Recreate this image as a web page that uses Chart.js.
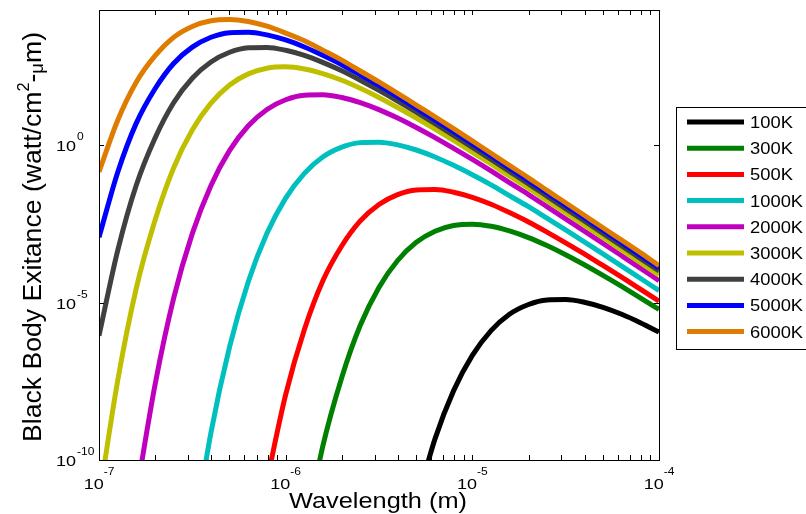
<!DOCTYPE html>
<html>
<head>
<meta charset="utf-8">
<script src="https://cdn.jsdelivr.net/npm/chart.js@4.4.1/dist/chart.umd.min.js"></script>
<style>
  html, body { margin: 0; background: #fff; }
  canvas { display: block; }
</style>
</head>
<body>
<canvas id="bb" width="806" height="514"></canvas>
<script>
// wavelength samples (m), 10 per decade
const wavelengths = [1e-7, 1.26e-7, 1.58e-7, 2e-7, 2.51e-7, 3.16e-7, 3.98e-7, 5.01e-7, 6.31e-7, 7.94e-7,
    1e-6, 1.26e-6, 1.58e-6, 2e-6, 2.51e-6, 3.16e-6, 3.98e-6, 5.01e-6, 6.31e-6, 7.94e-6,
    1e-5, 1.26e-5, 1.58e-5, 2e-5, 2.51e-5, 3.16e-5, 3.98e-5, 5.01e-5, 6.31e-5, 7.94e-5, 1e-4];

// exitance (watt/cm^2-um), null = below the axis
const m100 = [null, null, null, null, null, null, null, null, null, null,
    null, null, null, null, null, null, null, 4.0e-12, 4.7e-10, 1.6e-8,
    2.11e-7, 1.29e-6, 4.27e-6, 8.75e-6, 1.22e-5, 1.26e-5, 1.035e-5, 7.11e-6, 4.27e-6, 2.31e-6, 1.16e-6];
const m300 = [null, null, null, null, null, null, null, null, null, null,
    null, 3.4e-13, 2.7e-10, 4.3e-8, 1.91e-6, 3.06e-5, 2.19e-4, 8.28e-4, 1.87e-3, 2.83e-3,
    3.12e-3, 2.68e-3, 1.91e-3, 1.17e-3, 6.52e-4, 3.33e-4, 1.60e-4, 7.38e-5, 3.29e-5, 1.43e-5, 6.08e-6];
const m500 = [null, null, null, null, null, null, null, null, null, 2.2e-11,
    1.19e-8, 1.4e-6, 4.86e-5, 6.44e-4, 3.96e-3, 0.0132, 0.0272, 0.0381, 0.0395, 0.0324,
    0.0223, 0.0134, 0.00728, 0.00366, 0.00175, 7.98e-4, 3.53e-4, 1.52e-4, 6.47e-5, 2.71e-5, 1.12e-5];
const m1000 = [null, null, null, null, null, 2.0e-13, 7.5e-10, 4.0e-7, 4.7e-5, 1.6e-3,
    0.0211, 0.129, 0.427, 0.875, 1.22, 1.26, 1.035, 0.711, 0.427, 0.231,
    0.116, 0.0555, 0.0253, 0.0112, 0.00484, 0.00206, 8.6e-4, 3.56e-4, 1.46e-4, 5.96e-5, 2.42e-5];
const m2000 = [null, null, 7.2e-12, 2.6e-8, 1.36e-5, 1.56e-3, 0.053, 0.69, 4.19, 13.8,
    28.1, 39.2, 40.4, 33.0, 22.6, 13.6, 7.35, 3.70, 1.76, 0.80,
    0.356, 0.153, 0.065, 0.0272, 0.0113, 0.00463, 0.00189, 7.7e-4, 3.1e-4, 1.25e-4, 5.0e-5];
const m3000 = [5.5e-12, 3.4e-8, 2.7e-5, 4.3e-3, 0.191, 3.06, 21.9, 82.8, 187, 283,
    312, 268, 191, 117, 65.2, 33.3, 16.0, 7.38, 3.29, 1.43,
    0.608, 0.255, 0.106, 0.0436, 0.0178, 0.00723, 0.00292, 0.00118, 4.74e-4, 1.90e-4, 7.6e-5];
const m4000 = [8.9e-7, 4.6e-4, 0.052, 1.75, 22.6, 136, 446, 906, 1260, 1290,
    1050, 721, 432, 233, 117, 55.8, 25.5, 11.3, 4.88, 2.07,
    0.865, 0.358, 0.147, 0.0598, 0.0243, 0.0098, 0.00395, 0.00159, 6.4e-4, 2.55e-4, 1.02e-4];
const m5000 = [1.2e-3, 0.14, 4.9, 64, 400, 1320, 2720, 3810, 3950, 3240,
    2230, 1340, 728, 366, 175, 80, 35.3, 15.2, 6.47, 2.71,
    1.12, 0.46, 0.188, 0.076, 0.031, 0.0124, 0.0050, 0.0020, 8.0e-4, 3.2e-4, 1.28e-4];
const m6000 = [0.144, 6.3, 100, 710, 2700, 6000, 9100, 10000, 8600, 6100,
    3700, 2100, 1060, 510, 230, 104, 45, 19, 8.1, 3.4,
    1.38, 0.56, 0.23, 0.093, 0.037, 0.015, 0.0060, 0.0024, 9.7e-4, 3.9e-4, 1.5e-4];

const seriesNames = ['100K', '300K', '500K', '1000K', '2000K', '3000K', '4000K', '5000K', '6000K'];
const seriesData = [m100, m300, m500, m1000, m2000, m3000, m4000, m5000, m6000];
const seriesColors = ['#000000', '#008000', '#ff0000', '#00bfbf', '#bf00bf', '#bfbf00', '#404040', '#0000ff', '#df7c00'];

const xTicks = [1e-7, 1e-6, 1e-5, 1e-4];
const xTickExp = ['-7', '-6', '-5', '-4'];
const yTicks = [1e-10, 1e-5, 1e0];
const yTickExp = ['-10', '-5', '0'];

const FONT = '"Liberation Sans", Arial, sans-serif';

// draw text squeezed/stretched horizontally by sx
function drawText(ctx, str, x, y, size, align, sx) {
    ctx.save();
    ctx.font = size + 'px ' + FONT;
    ctx.translate(x, y);
    ctx.scale(sx, 1);
    ctx.textAlign = align;
    ctx.textBaseline = 'alphabetic';
    ctx.fillText(str, 0, 0);
    ctx.restore();
}

function textW(ctx, str, size, sx) {
    ctx.font = size + 'px ' + FONT;
    return ctx.measureText(str).width * sx;
}

const framePlugin = {
    id: 'frame',
    afterDraw(chart) {
        const ctx = chart.ctx;
        const a = chart.chartArea;
        const xs = chart.scales.x;
        const ys = chart.scales.y;
        ctx.save();
        ctx.fillStyle = '#000';
        ctx.strokeStyle = '#000';
        ctx.lineWidth = 1;
        ctx.strokeRect(Math.round(a.left) + 0.5, Math.round(a.top) + 0.5,
            Math.round(a.right - a.left), Math.round(a.bottom - a.top));

        // x ticks, major and minor, inside on top and bottom
        ctx.beginPath();
        for (let d = -7; d < -4; d++) {
            for (let k = 1; k <= 9; k++) {
                const px = Math.round(xs.getPixelForValue(k * Math.pow(10, d))) + 0.5;
                ctx.moveTo(px, a.bottom); ctx.lineTo(px, a.bottom - 5);
                ctx.moveTo(px, a.top); ctx.lineTo(px, a.top + 5);
            }
        }
        yTicks.forEach(v => {
            const py = Math.round(ys.getPixelForValue(v)) + 0.5;
            ctx.moveTo(a.left, py); ctx.lineTo(a.left + 5, py);
            ctx.moveTo(a.right, py); ctx.lineTo(a.right - 5, py);
        });
        ctx.stroke();

        // tick labels 10^n
        const sx = 1.2;
        xTicks.forEach((v, i) => {
            const px = xs.getPixelForValue(v);
            const w1 = textW(ctx, '10', 15, sx);
            const w2 = textW(ctx, xTickExp[i], 10, sx);
            const x0 = px - (w1 + w2) / 2;
            drawText(ctx, '10', x0, a.bottom + 29, 15, 'left', sx);
            drawText(ctx, xTickExp[i], x0 + w1, a.bottom + 15, 10, 'left', sx);
        });
        yTicks.forEach((v, i) => {
            const py = ys.getPixelForValue(v);
            drawText(ctx, '10', 76, py + 6, 15, 'right', sx);
            drawText(ctx, yTickExp[i], 77, py - 5, 10, 'left', sx);
        });

        // x axis title
        const xw = textW(ctx, 'Wavelength (m)', 22, 1);
        drawText(ctx, 'Wavelength (m)', 378, 508, 22, 'center', 178 / xw);

        // y axis title, rotated, with superscript 2 and small mu
        const F = 26;
        const parts = [
            ['Black Body Exitance (watt/cm', F, 0],
            ['2', 16, -12],
            ['-', F, 0],
            ['\u03bc', 18, 2],
            ['m)', F, 0]
        ];
        let total = 0;
        parts.forEach(p => { total += textW(ctx, p[0], p[1], 1); });
        const ls = 410 / total;
        ctx.save();
        ctx.translate(41, 237);
        ctx.rotate(-Math.PI / 2);
        let cx = -total * ls / 2;
        parts.forEach(p => {
            drawText(ctx, p[0], cx, p[2], p[1], 'left', ls);
            cx += textW(ctx, p[0], p[1], ls);
        });
        ctx.restore();

        // legend
        ctx.fillStyle = '#fff';
        ctx.fillRect(676.5, 107.5, 140, 242);
        ctx.strokeStyle = '#000';
        ctx.lineWidth = 1;
        ctx.strokeRect(676.5, 107.5, 140, 242);
        seriesNames.forEach((name, i) => {
            const ly = 122 + i * 26.2;
            ctx.strokeStyle = seriesColors[i];
            ctx.lineWidth = 5;
            ctx.beginPath();
            ctx.moveTo(687, ly); ctx.lineTo(744, ly);
            ctx.stroke();
            ctx.fillStyle = '#000';
            drawText(ctx, name, 750, ly + 6, 17, 'left', 1.08);
        });
        ctx.restore();
    }
};

const datasets = seriesData.map((vals, i) => ({
    label: seriesNames[i],
    data: wavelengths.map((w, j) => ({ x: w, y: vals[j] })),
    borderColor: seriesColors[i],
    backgroundColor: seriesColors[i],
    borderWidth: 5,
    pointRadius: 0,
    fill: false,
    cubicInterpolationMode: 'monotone',
    order: seriesData.length - i,
    clip: 0
}));

new Chart(document.getElementById('bb').getContext('2d'), {
    type: 'line',
    data: { datasets: datasets },
    options: {
        responsive: false,
        animation: false,
        events: [],
        layout: { padding: { left: 99, right: 147, top: 10, bottom: 54 } },
        scales: {
            x: { type: 'logarithmic', min: 1e-7, max: 1e-4, display: false },
            y: { type: 'logarithmic', min: 1e-10, max: 2e4, display: false }
        },
        plugins: {
            legend: { display: false },
            tooltip: { enabled: false }
        }
    },
    plugins: [framePlugin]
});
</script>
</body>
</html>
